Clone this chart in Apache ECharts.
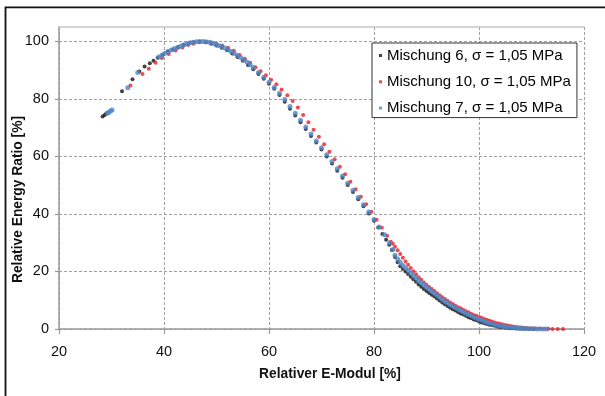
<!DOCTYPE html>
<html>
<head>
<meta charset="utf-8">
<script src="https://cdn.jsdelivr.net/npm/echarts@6/dist/echarts.min.js"></script>
<style>
  html, body { margin: 0; padding: 0; background: #fff; }
  #chart { width: 605px; height: 396px; }
</style>
</head>
<body>
<div id="chart"></div>
<script>
// Measured curves: relative E-modulus [%] vs. relative energy ratio [%]
const seriesNames = [
  'Mischung 6, σ = 1,05 MPa',
  'Mischung 10, σ = 1,05 MPa',
  'Mischung 7, σ = 1,05 MPa'
];

const mischung6 = [
  [28.3,73.9],[28.7,74.4],[29.0,74.9],
  [32.0,82.7],[34.0,86.8],[35.3,89.5],[36.3,91.3],[37.3,92.4],[38.0,93.3],[38.8,94.3],[39.8,95.4],
  [40.7,96.5],[41.7,97.2],[42.7,98.0],[43.7,98.7],[44.7,99.3],[45.7,99.7],[46.8,99.9],
  [48.0,99.7],[49.0,99.2],[50.0,98.6],[51.0,97.8],[52.0,96.9],[53.0,95.8],[54.0,94.6],[55.0,93.3],
  [56.0,91.8],[57.0,90.3],[58.0,88.7],[59.0,87.0],[60.0,85.3],[61.0,83.5],[62.0,81.4],[63.0,79.0],
  [64.0,76.6],[65.0,74.2],[66.0,71.9],[67.0,69.5],[68.0,67.1],[69.0,64.8],[70.0,62.4],[71.0,60.0],
  [72.0,57.5],[73.0,55.0],[74.0,52.6],[75.0,50.1],[76.0,47.6],[77.0,45.1],[78.0,42.7],[79.0,40.2],
  [80.0,37.6],[80.8,35.3],[81.6,33.0],[82.3,31.0],[82.9,29.3],
  [83.4,27.5],[84.0,25.0],[84.5,23.2],[85.0,21.8],[85.5,20.9],[86.0,20.0],[86.5,19.1],[87.0,18.2],
  [87.5,17.3],[88.0,16.4],[88.5,15.5],[89.0,14.7],[89.5,13.9],[90.0,13.2],[90.5,12.5],[91.0,11.9],
  [91.5,11.3],[92.0,10.6],[92.5,9.9],[93.0,9.2],[93.5,8.6],[94.0,8.0],[94.5,7.4],[95.0,6.9],
  [95.5,6.4],[96.0,5.9],[96.5,5.4],[97.0,5.0],[97.5,4.6],[98.0,4.1],[98.5,3.7],[99.0,3.3],
  [99.5,3.0],[100.0,2.6],[100.5,2.3],[101.0,2.0],[101.5,1.7],[102.0,1.5],[102.5,1.3],[103.0,1.1],
  [103.5,0.9],[104.0,0.7],[104.5,0.6],[105.0,0.5],[105.5,0.4],[106.0,0.3],[106.5,0.25],[107.0,0.2],
  [107.6,0.15],[108.2,0.1],[108.8,0.05],[109.5,0.0],[110.3,0.0]
];

const mischung10 = [
  [33.6,84.7],[35.9,88.7],[37.1,90.5],[38.4,92.6],[39.6,94.2],[40.9,95.6],[42.2,96.8],[43.5,97.9],
  [44.6,98.7],[45.6,99.2],[46.7,99.7],[47.8,99.8],[48.9,99.6],[50.0,99.2],[51.1,98.6],[52.2,97.8],
  [53.3,96.7],[54.4,95.3],[55.4,94.0],[56.4,92.6],[57.4,91.0],[58.4,89.6],[59.4,88.2],[60.4,86.7],
  [61.4,85.1],[62.4,83.3],[63.5,81.3],[64.5,79.3],[65.5,77.0],[66.5,74.4],[67.5,71.9],[68.5,69.3],
  [69.5,66.8],[70.5,64.2],[71.5,61.6],[72.5,59.0],[73.5,56.4],[74.5,53.8],[75.5,51.2],[76.5,48.6],
  [77.5,46.0],[78.5,43.4],[79.5,40.8],[80.5,38.0],[81.5,35.2],[82.5,32.4],[83.2,30.3],
  [83.6,29.6],[84.0,28.6],[84.5,27.4],[85.0,26.1],[85.5,24.8],[86.0,23.5],[86.5,22.3],[87.0,21.2],
  [87.5,20.1],[88.0,19.0],[88.5,18.0],[89.0,17.1],[89.5,16.2],[90.0,15.4],[90.5,14.6],[91.0,13.9],
  [91.5,13.2],[92.0,12.4],[92.5,11.7],[93.0,11.0],[93.5,10.4],[94.0,9.8],[94.5,9.2],[95.0,8.7],
  [95.5,8.1],[96.0,7.6],[96.5,7.2],[97.0,6.7],[97.5,6.2],[98.0,5.8],[98.5,5.3],[99.0,4.9],
  [99.5,4.6],[100.0,4.2],[100.5,3.9],[101.0,3.5],[101.5,3.2],[102.0,2.9],[102.5,2.6],[103.0,2.3],
  [103.5,2.0],[104.0,1.8],[104.5,1.6],[105.0,1.4],[105.5,1.2],[106.0,1.0],[106.5,0.9],[107.0,0.7],
  [107.5,0.6],[108.0,0.5],[108.5,0.4],[109.2,0.3],[110.0,0.25],[110.8,0.2],[111.6,0.15],[112.4,0.1],
  [113.2,0.05],[114.0,0.0],[115.0,0.0],[116.0,0.0]
];

const mischung7 = [
  [29.2,75.0],[29.5,75.4],[29.8,75.8],[30.1,76.1],
  [33.1,83.9],[35.0,89.2],[39.0,94.6],[39.6,95.2],[40.2,95.9],[40.8,96.5],[41.4,97.0],[42.0,97.5],
  [42.6,97.9],[43.2,98.4],[43.8,98.8],[44.4,99.2],[45.0,99.5],[45.6,99.7],[46.2,99.9],[46.8,100.0],
  [47.4,100.0],[48.0,99.9],[48.6,99.7],[49.2,99.4],[49.8,99.0],[50.4,98.6],[51.0,98.2],[51.6,97.7],
  [52.2,97.1],[52.8,96.5],[53.4,95.8],[54.0,95.1],[54.6,94.4],[55.2,93.6],[55.8,92.8],[56.4,91.9],
  [57.0,90.9],[58.0,89.2],[59.0,87.5],[60.0,85.8],[61.0,84.0],[62.0,82.0],[63.0,79.8],[64.0,77.4],
  [65.0,75.0],[66.0,72.6],[67.0,70.2],[68.0,67.8],[69.0,65.4],[70.0,63.0],[71.0,60.6],[72.0,58.2],
  [73.0,55.7],[74.0,53.2],[75.0,50.7],[76.0,48.2],[77.0,45.7],[78.0,43.2],[79.0,40.7],[80.0,38.1],
  [81.0,35.5],[82.0,32.8],[83.0,30.0],[83.6,27.6],
  [84.0,25.6],[84.5,24.3],[85.0,23.2],[85.5,22.1],[86.0,21.2],[86.5,20.4],[87.0,19.5],[87.5,18.6],
  [88.0,17.7],[88.5,16.8],[89.0,16.1],[89.5,15.4],[90.0,14.6],[90.5,13.9],[91.0,13.1],[91.5,12.4],
  [92.0,11.7],[92.5,11.0],[93.0,10.3],[93.5,9.6],[94.0,9.0],[94.5,8.4],[95.0,7.9],[95.5,7.4],
  [96.0,6.9],[96.5,6.4],[97.0,5.9],[97.5,5.4],[98.0,5.0],[98.5,4.6],[99.0,4.1],[99.5,3.7],
  [100.0,3.3],[100.5,3.0],[101.0,2.6],[101.5,2.3],[102.0,2.0],[102.5,1.8],[103.0,1.5],[103.5,1.3],
  [104.0,1.1],[104.5,0.9],[105.0,0.8],[105.5,0.7],[106.0,0.6],[106.5,0.5],[107.0,0.4],[107.5,0.3],
  [108.0,0.25],[108.6,0.2],[109.2,0.15],[109.8,0.1],[110.5,0.05],[111.2,0.0],[112.0,0.0],[112.8,0.0]
];

const xTicks = [20, 40, 60, 80, 100, 120];
const yTicks = [0, 20, 40, 60, 80, 100];

const FONT = 'Liberation Sans, Arial, sans-serif';
const colors = ['#111111', '#ee1c24', '#4f86c6'];

const chart = echarts.init(document.getElementById('chart'), null, { renderer: 'canvas' });

const dotSeries = (name, data, color, size, z) => ({
  name: name,
  type: 'scatter',
  data: data,
  symbol: 'circle',
  symbolSize: size,
  itemStyle: { color: color },
  z: z,
  emphasis: { disabled: true }
});

chart.setOption({
  animation: false,
  backgroundColor: '#ffffff',
  textStyle: { fontFamily: FONT },
  grid: { left: 59, right: 21, top: 27, bottom: 67, containLabel: false, outerBoundsMode: 'none' },
  graphic: [{
    type: 'rect',
    shape: { x: 5.5, y: 7.3, width: 800, height: 600 },
    style: { fill: 'none', stroke: '#111', lineWidth: 1.8 },
    silent: true
  }],
  legend: {
    orient: 'vertical',
    left: 372,
    top: 43,
    padding: [5, 6, 2, 7],
    itemGap: 11.3,
    itemWidth: 3,
    itemHeight: 3,
    icon: 'rect',
    backgroundColor: '#fff',
    borderColor: '#333',
    borderWidth: 1,
    textStyle: { fontFamily: FONT, fontSize: 15, color: '#000' },
    data: seriesNames
  },
  xAxis: [{
    type: 'value',
    min: xTicks[0],
    max: xTicks[xTicks.length - 1],
    interval: 20,
    name: 'Relativer E-Modul [%]',
    nameLocation: 'middle',
    nameGap: 38,
    nameMoveOverlap: false,
    nameTextStyle: { fontFamily: FONT, fontSize: 13.8, fontWeight: 'bold', color: '#111', padding: [0, 0, 0, 17] },
    axisLine: { show: true, onZero: false, lineStyle: { color: '#999', width: 1.5 } },
    axisTick: { show: true, length: 5, lineStyle: { color: '#999', width: 1.2 } },
    axisLabel: { fontFamily: FONT, fontSize: 14.5, color: '#111', margin: 15 },
    splitLine: { show: true, lineStyle: { color: '#a0a0a0', type: [3, 2], width: 1 } }
  }, {
    type: 'value',
    position: 'top',
    min: xTicks[0],
    max: xTicks[xTicks.length - 1],
    interval: 20,
    axisLine: { show: true, onZero: false, lineStyle: { color: '#c8c8c8', width: 1.5 } },
    axisTick: { show: false },
    axisLabel: { show: false },
    splitLine: { show: false }
  }],
  yAxis: {
    type: 'value',
    min: 0,
    max: 105,
    interval: 20,
    name: 'Relative Energy Ratio [%]',
    nameLocation: 'middle',
    nameGap: 34,
    nameMoveOverlap: false,
    nameTextStyle: { fontFamily: FONT, fontSize: 13.8, fontWeight: 'bold', color: '#111', padding: [0, 43, 0, 0] },
    axisLine: { show: true, lineStyle: { color: '#999', width: 1.5 } },
    axisTick: { show: true, length: 4, customValues: yTicks, lineStyle: { color: '#999', width: 1.2 } },
    axisLabel: { fontFamily: FONT, fontSize: 14.5, color: '#111', margin: 10, customValues: yTicks },
    splitLine: { show: true, lineStyle: { color: '#a0a0a0', type: [3, 2], width: 1 } }
  },
  series: [
    dotSeries(seriesNames[0], mischung6, colors[0], 4, 2),
    dotSeries(seriesNames[1], mischung10, colors[1], 4, 3),
    dotSeries(seriesNames[2], mischung7, colors[2], 5, 4)
  ]
});
</script>
</body>
</html>
